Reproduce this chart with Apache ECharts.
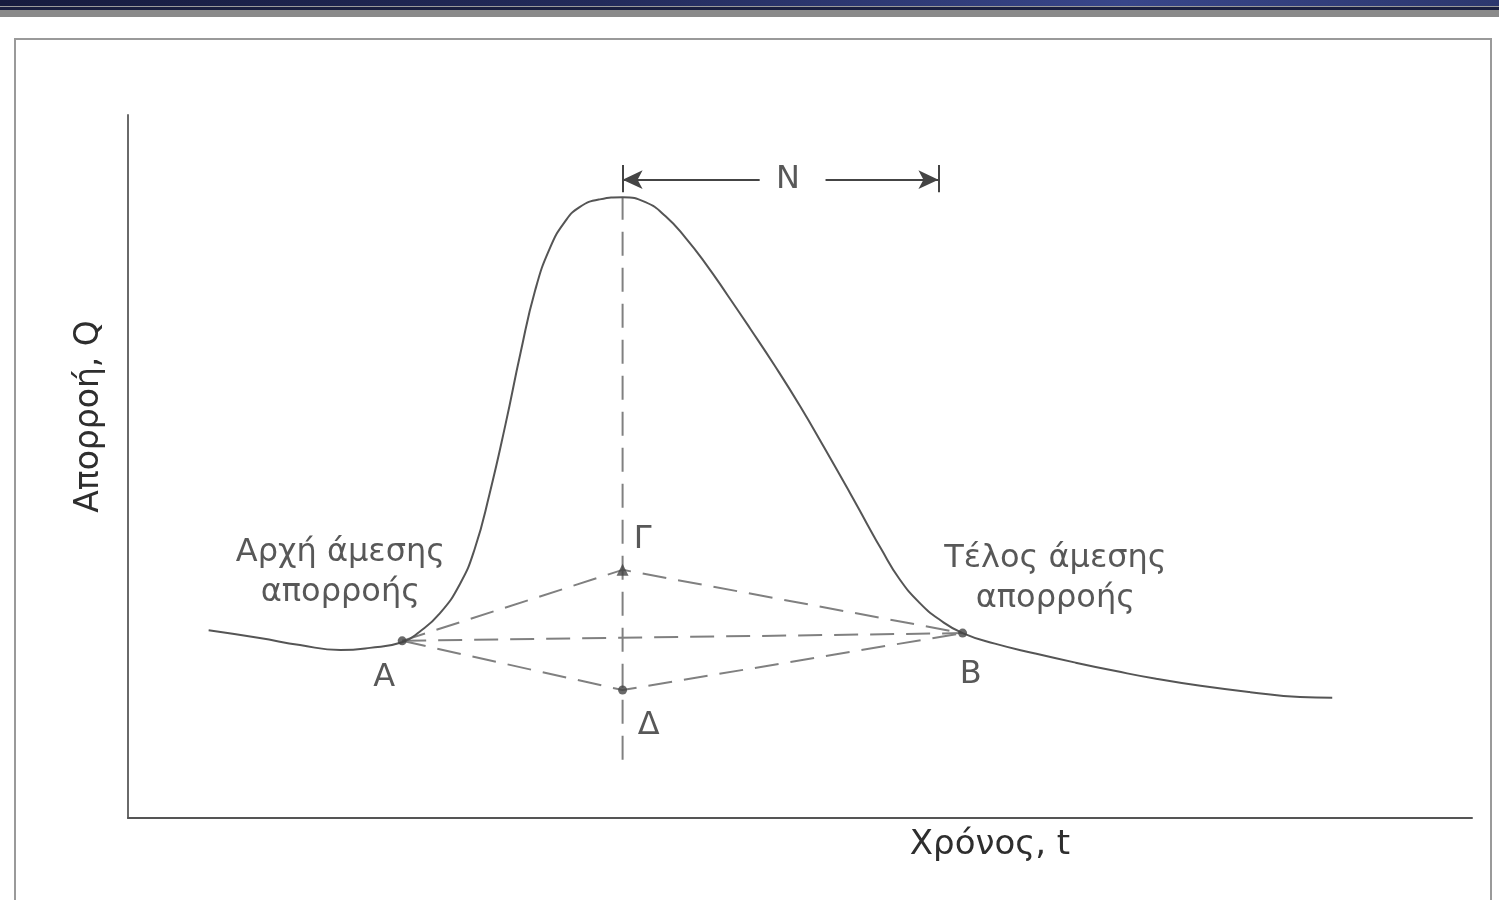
<!DOCTYPE html>
<html>
<head>
<meta charset="utf-8">
<script src="https://cdn.jsdelivr.net/npm/echarts@6/dist/echarts.min.js"></script>
<style>
  html, body { margin: 0; padding: 0; background: #fff; }
  #main { width: 1499px; height: 900px; }
</style>
</head>
<body>
<div id="main"></div>
<script>
// υδρογράφημα: χρόνος t (0-100) και απορροή Q (0-100), τιμές από την εικόνα
var tCurve = [6.0, 9.8, 12.8, 15.8, 18.0, 20.4, 21.7, 23.2, 24.7, 25.8, 26.9, 28.1, 29.2, 30.3, 31.4, 32.5, 33.6, 35.1, 36.8,
              38.5, 40.0, 41.5, 43.0, 44.6, 46.3, 48.1, 50.0, 51.8, 53.7, 55.0, 56.0, 57.4, 58.9, 60.4, 62.1,
              64.5, 67.5, 70.5, 73.5, 76.5, 79.8, 83.5, 87.2, 89.6];
var qCurve = [26.7, 25.6, 24.6, 23.9, 24.2, 25.0, 26.5, 29.1, 33.3, 38.3, 46.1, 56.1, 66.1, 75.1, 81.1, 84.8, 86.9, 88.0, 88.3,
              87.6, 85.6, 82.5, 78.8, 74.4, 69.6, 64.4, 58.6, 52.7, 46.3, 41.8, 38.4, 34.0, 30.6, 28.2, 26.3,
              24.8, 23.4, 22.1, 20.9, 19.8, 18.8, 17.9, 17.2, 17.1];

// σημεία Α, Β, Γ, Δ
var pointNames = ['A', 'B', 'Γ', 'Δ'];
var pointT = [20.4, 62.1, 36.8, 36.8];
var pointQ = [25.2, 26.3, 35.3, 18.2];

// κορυφή και χρόνος N
var peakT = 36.8;
var nEndT = 60.3;
var nLevel = 90.8;

var noteTexts = ['Αρχή άμεσης\nαπορροής', 'Τέλος άμεσης\nαπορροής'];
var noteT = [15.8, 69.0];
var noteQ = [34.9, 34.1];

var myChart = echarts.init(document.getElementById('main'));

var curve = tCurve.map(function (t, i) { return [t, qCurve[i]]; });
var pts = {};
pointNames.forEach(function (n, i) { pts[n] = [pointT[i], pointQ[i]]; });

var dashStyle = { color: '#808080', width: 2, type: [24, 12] };
var textFont = 'DejaVu Sans';
var textColor = '#2e2e2e';

function dashSeries(data) {
    return {
        type: 'line', data: data, symbol: 'none', silent: true,
        lineStyle: dashStyle, z: 2
    };
}

var labelOffsets = { 'A': [-18, 37], 'B': [8, 42], 'Γ': [20, -30], 'Δ': [26, 36] };

var option = {
    animation: false,
    backgroundColor: '#fff',
    graphic: [
        { type: 'rect', shape: { x: 0, y: 0, width: 1499, height: 6 },
          style: { fill: new echarts.graphic.LinearGradient(0, 0, 1, 0, [
              { offset: 0, color: '#161b3e' }, { offset: 0.4, color: '#222a5a' },
              { offset: 0.75, color: '#38468a' }, { offset: 1, color: '#2c376e' }]) } },
        { type: 'rect', shape: { x: 0, y: 6, width: 1499, height: 1 }, style: { fill: '#9a9a9a' } },
        { type: 'rect', shape: { x: 0, y: 7, width: 1499, height: 3 }, style: { fill: '#1a1f40' } },
        { type: 'rect', shape: { x: 0, y: 10, width: 1499, height: 7 }, style: { fill: '#8a8a8a' } },
        { type: 'rect', shape: { x: 15, y: 39, width: 1476, height: 880 },
          style: { fill: 'none', stroke: '#9a9a9a', lineWidth: 2 } }
    ],
    grid: { left: 128, top: 115, width: 1344, height: 703 },
    xAxis: {
        type: 'value', min: 0, max: 100,
        name: 'Χρόνος, t', nameLocation: 'middle', nameGap: 10,
        nameTextStyle: { fontFamily: textFont, fontSize: 34, color: textColor, padding: [0, 0, 0, 380] },
        axisLine: { lineStyle: { color: '#555', width: 2 } },
        axisTick: { show: false }, axisLabel: { show: false }, splitLine: { show: false }
    },
    yAxis: {
        type: 'value', min: 0, max: 100,
        name: 'Απορροή, Q', nameLocation: 'middle', nameGap: 22,
        nameTextStyle: { fontFamily: textFont, fontSize: 33, color: textColor, padding: [0, 0, 0, 100] },
        axisLine: { lineStyle: { color: '#6a6a6a', width: 2 } },
        axisTick: { show: false }, axisLabel: { show: false }, splitLine: { show: false }
    },
    series: [
        {
            name: 'Q', type: 'line', data: curve, smooth: 0.5,
            symbol: 'none', silent: true,
            lineStyle: { color: '#555', width: 2 }, z: 3
        },
        dashSeries([pts['A'], pts['Γ'], pts['B']]),
        dashSeries([pts['A'], pts['B']]),
        dashSeries([pts['A'], pts['Δ'], pts['B']]),
        dashSeries([[peakT, 8.3], [peakT, 88.3]]),
        {
            // βέλη του N
            type: 'line', data: [], silent: true,
            markLine: {
                silent: true, animation: false, label: { show: false },
                lineStyle: { color: '#444', width: 2, type: 'solid' },
                data: [
                    [{ coord: [peakT, nLevel], symbol: 'arrow', symbolSize: [14, 20] }, { coord: [47.0, nLevel], symbol: 'none' }],
                    [{ coord: [51.9, nLevel], symbol: 'none' }, { coord: [nEndT, nLevel], symbol: 'arrow', symbolSize: [14, 20] }],
                    [{ coord: [peakT, 92.9], symbol: 'none' }, { coord: [peakT, 89.0], symbol: 'none' }],
                    [{ coord: [nEndT, 92.9], symbol: 'none' }, { coord: [nEndT, 89.0], symbol: 'none' }]
                ]
            }
        },
        {
            type: 'scatter', silent: true, z: 5,
            data: [{ value: [49.1, nLevel], name: 'N' }],
            symbolSize: 0,
            label: { show: true, position: 'inside', formatter: '{b}', fontFamily: textFont, fontSize: 32, color: textColor }
        },
        {
            type: 'scatter', silent: true, z: 5,
            symbolSize: 9,
            itemStyle: { color: '#444' },
            data: pointNames.map(function (n, i) {
                return {
                    name: n, value: [pointT[i], pointQ[i]],
                    symbol: n === 'Γ' ? 'triangle' : 'circle',
                    symbolSize: n === 'Γ' ? 12 : 9,
                    label: { offset: labelOffsets[n] }
                };
            }),
            label: { show: true, position: 'inside', formatter: '{b}', fontFamily: textFont, fontSize: 32, color: textColor }
        },
        {
            type: 'scatter', silent: true, z: 5,
            symbolSize: 0,
            data: noteTexts.map(function (s, i) { return { name: s, value: [noteT[i], noteQ[i]] }; }),
            label: { show: true, position: 'inside', formatter: '{b}', fontFamily: textFont, fontSize: 32,
                     lineHeight: 40, align: 'center', color: textColor }
        }
    ]
};

myChart.setOption(option);
</script>
</body>
</html>
